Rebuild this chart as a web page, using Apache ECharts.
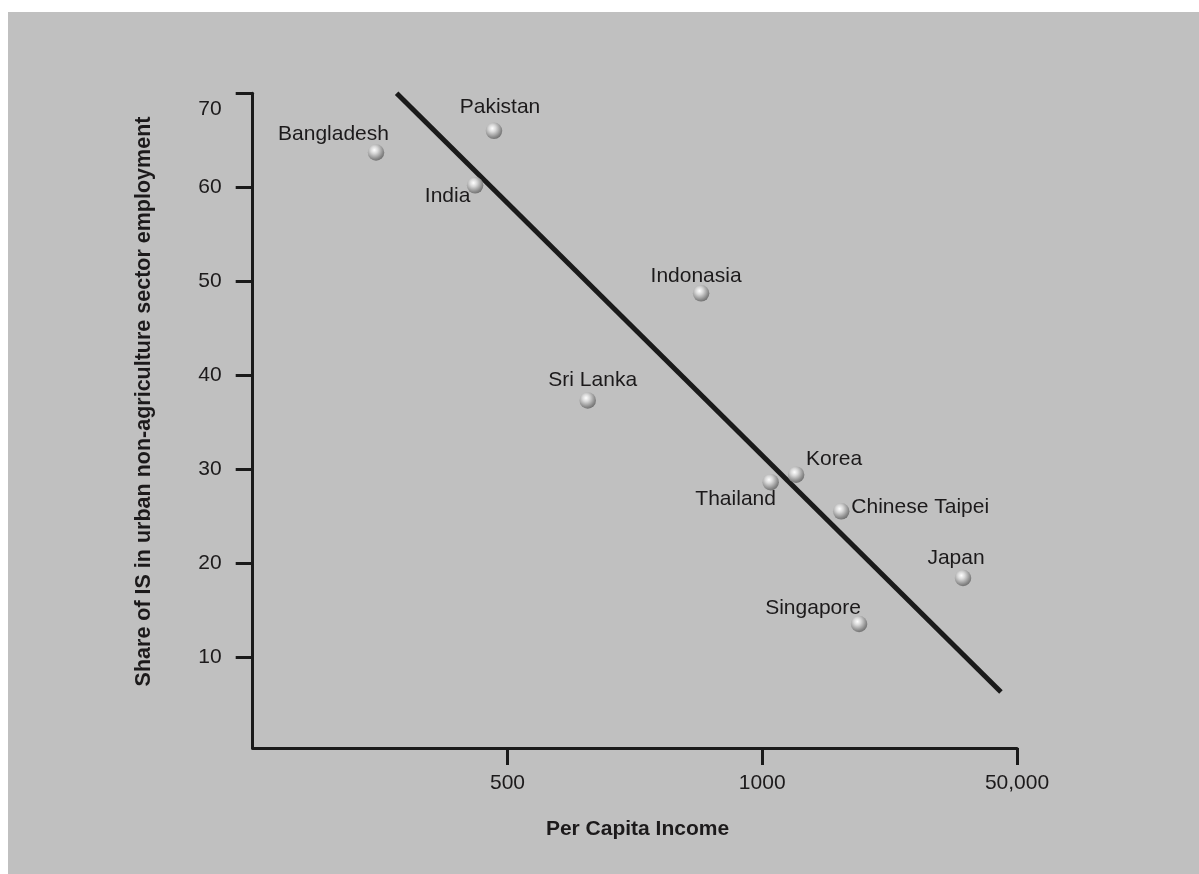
<!DOCTYPE html>
<html>
<head>
<meta charset="utf-8">
<script src="https://cdn.jsdelivr.net/npm/echarts@6/dist/echarts.min.js"></script>
<style>
  html, body { margin: 0; padding: 0; background: #ffffff; width: 1199px; height: 874px; overflow: hidden; }
  #chart { position: absolute; left: 8px; top: 12px; width: 1191px; height: 862px; }
</style>
</head>
<body>
<div id="chart"></div>
<script>
// ---- data ----
const countries = ['Bangladesh', 'Pakistan', 'India', 'Indonasia', 'Sri Lanka', 'Thailand', 'Korea', 'Chinese Taipei', 'Japan', 'Singapore'];
// position on the (non-uniform) income axis: 0 = origin, 1 = 500, 2 = 1000, 3 = 50,000
const incomePos = [0.484, 0.947, 0.873, 1.760, 1.315, 2.033, 2.133, 2.310, 2.788, 2.380];
const isShare = [63.7, 66.0, 60.2, 48.7, 37.3, 28.6, 29.4, 25.5, 18.4, 13.5];
const xTickValues = [1, 2, 3];
const xTickLabels = ['500', '1000', '50,000'];
const yTickValues = [10, 20, 30, 40, 50, 60, 70];
const trendX = [0.565, 2.937];
const trendY = [70.0, 6.27];
const xTitle = 'Per Capita Income';
const yTitle = 'Share of IS in urban non-agriculture sector employment';

// ---- layout (label offsets relative to marker centre) ----
const labelOffsets = {
  'Bangladesh': [-42.5, -18.5],
  'Pakistan': [6, -23.5],
  'India': [-27.5, 10.5],
  'Indonasia': [-5, -17],
  'Sri Lanka': [5, -20.7],
  'Thailand': [-35, 17],
  'Korea': [38, -15],
  'Chinese Taipei': [79, -4],
  'Japan': [-7, -20],
  'Singapore': [-46, -16]
};

const FONT = "'Liberation Sans', Arial, Helvetica, sans-serif";
const TXT = '#1c1a1b';
const AX = '#1a1a1a';

const scatterData = countries.map((c, i) => ({
  name: c,
  value: [incomePos[i], isShare[i]],
  label: { offset: labelOffsets[c] }
}));
const trendData = trendX.map((x, i) => [x, trendY[i]]);

const chart = echarts.init(document.getElementById('chart'), null, { renderer: 'canvas' });
chart.setOption({
  backgroundColor: '#c0c0c0',
  animation: false,
  grid: { left: 244.7, top: 81.3, right: 182, bottom: 126, containLabel: false },
  xAxis: {
    type: 'value',
    min: 0,
    max: 3,
    axisLine: { show: true, lineStyle: { color: AX, width: 3 } },
    axisTick: { show: true, inside: false, length: 17, lineStyle: { color: AX, width: 3 }, customValues: xTickValues },
    axisLabel: {
      show: true, margin: 25, fontSize: 21, fontFamily: FONT, color: TXT,
      customValues: xTickValues,
      formatter: v => xTickLabels[xTickValues.indexOf(v)] || ''
    },
    splitLine: { show: false }
  },
  yAxis: {
    type: 'value',
    min: 0.3,
    max: 70,
    axisLine: { show: true, lineStyle: { color: AX, width: 3 } },
    axisTick: { show: true, inside: false, length: 17, lineStyle: { color: AX, width: 3 }, customValues: yTickValues },
    axisLabel: {
      show: true, margin: 31, fontSize: 21, fontFamily: FONT, color: TXT,
      customValues: yTickValues,
      formatter: v => (v === 70 ? '{top|' + v + '}' : String(v)),
      rich: {
        top: { fontSize: 21, fontFamily: FONT, color: TXT, padding: [31, 0, 0, 0] }
      }
    },
    splitLine: { show: false }
  },
  graphic: [
    {
      type: 'text', x: 136, y: 389.5, rotation: Math.PI / 2,
      style: { text: yTitle, align: 'center', verticalAlign: 'middle', fill: TXT, font: "bold 21.5px " + FONT }
    },
    {
      type: 'text', x: 629.5, y: 817,
      style: { text: xTitle, align: 'center', verticalAlign: 'middle', fill: TXT, font: "bold 21px " + FONT }
    }
  ],
  series: [
    {
      type: 'line',
      data: trendData,
      symbol: 'none',
      clip: false,
      lineStyle: { color: AX, width: 5, cap: 'butt', opacity: 1 },
      z: 2,
      silent: true
    },
    {
      type: 'scatter',
      data: scatterData,
      symbol: 'circle',
      symbolSize: 16.5,
      z: 3,
      itemStyle: {
        opacity: 1,
        color: {
          type: 'radial', x: 0.4, y: 0.35, r: 0.72,
          colorStops: [
            { offset: 0, color: '#ffffff' },
            { offset: 0.3, color: '#d8d8d8' },
            { offset: 0.75, color: '#8a8a8a' },
            { offset: 1, color: '#666666' }
          ]
        }
      },
      label: {
        show: true,
        position: ['50%', '50%'],
        formatter: '{b}',
        fontSize: 21,
        fontFamily: FONT,
        color: TXT,
        opacity: 1,
        textBorderWidth: 0,
        align: 'center',
        verticalAlign: 'middle'
      }
    }
  ]
});
</script>
</body>
</html>
